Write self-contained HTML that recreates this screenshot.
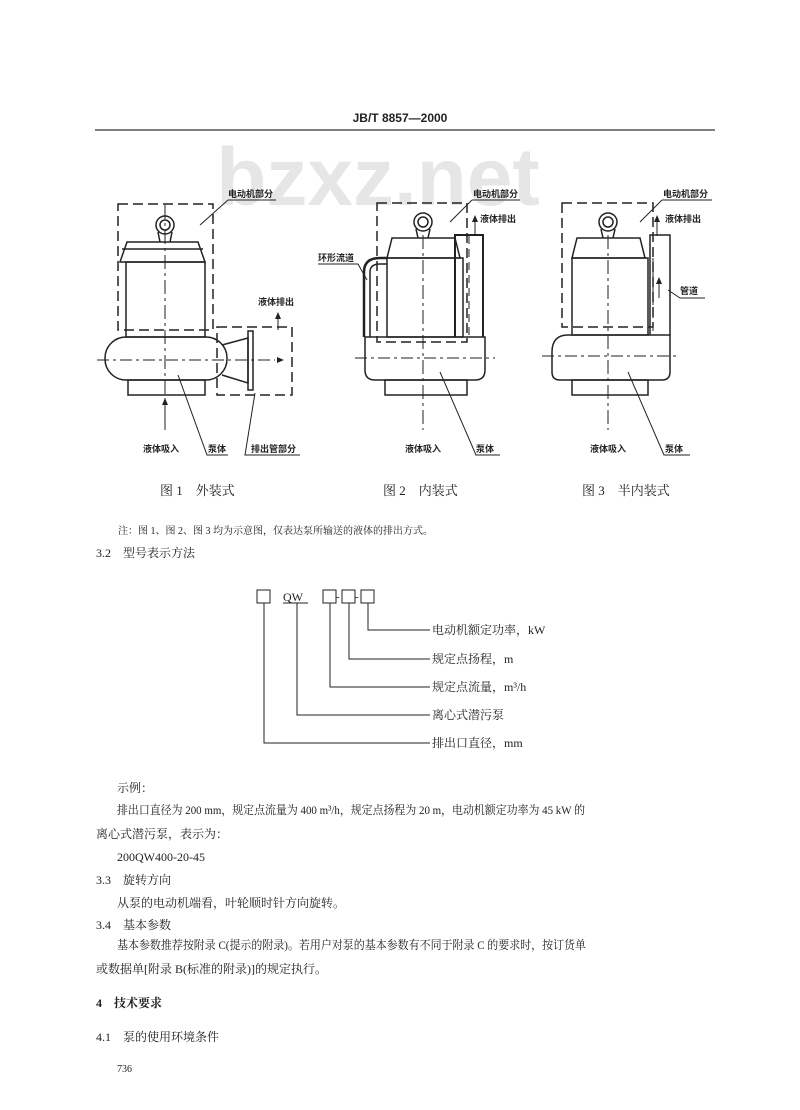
<!DOCTYPE html>
<html><head><meta charset="utf-8"><style>
html,body{margin:0;padding:0;background:#fff;}
svg{display:block;}
text{font-family:"Liberation Serif","Noto Serif CJK SC","Noto Sans CJK SC",serif;fill:#222;}
.b{font-family:"Liberation Sans","Noto Sans CJK SC",sans-serif;font-weight:bold;font-size:9px;}
</style></head><body>
<svg width="800" height="1110" viewBox="0 0 800 1110" xmlns="http://www.w3.org/2000/svg">
<rect width="800" height="1110" fill="#fff"/>
<text x="400" y="122" text-anchor="middle" style="font-family:'Liberation Sans',sans-serif;font-weight:bold;font-size:12px">JB/T 8857—2000</text>
<line x1="95" y1="130" x2="715" y2="130" stroke="#333" stroke-width="1.2"/>
<text x="378" y="205" text-anchor="middle" style="font-family:'Liberation Sans',sans-serif;font-weight:bold;font-size:82px;fill:#e6e6e6">bzxz.net</text>

<g fill="none" stroke="#222" stroke-width="1.5">
<!-- FIG 1 -->
<rect x="118" y="204" width="95" height="126" stroke-dasharray="10,5"/>
<circle cx="165" cy="225" r="9"/><circle cx="165" cy="225" r="5"/>
<path d="M158 232 L160 242 M172 232 L170 242"/>
<path d="M120 262 L127 242 L198 242 L205 262 Z"/>
<line x1="122" y1="249" x2="203" y2="249"/>
<rect x="126" y="262" width="79" height="75"/>
<rect x="105" y="337" width="122" height="43" rx="21"/>
<rect x="128" y="380" width="77" height="15"/>
<rect x="217" y="327" width="75" height="68" stroke-dasharray="10,5"/>
<path d="M222 345 L248 338 L248 383 L222 375"/>
<rect x="248" y="331" width="5" height="59"/>
<line x1="97" y1="360" x2="275" y2="360" stroke-dasharray="12,4,3,4" stroke-width="1"/>
<line x1="165" y1="205" x2="165" y2="420" stroke-dasharray="14,4,3,4" stroke-width="1"/>
<line x1="165" y1="400" x2="165" y2="430" stroke-width="1"/>
<line x1="278" y1="330" x2="278" y2="315" stroke-width="1"/>
<line x1="200" y1="225" x2="228" y2="200" stroke-width="1"/><line x1="228" y1="200" x2="276" y2="200" stroke-width="1"/>
<path d="M178 375 L207 455 L228 455 M255 393 L245 455 L300 455" stroke-width="1"/>

<!-- FIG 2 -->
<rect x="377" y="203" width="90" height="139" stroke-dasharray="10,5"/>
<circle cx="423" cy="222" r="9"/><circle cx="423" cy="222" r="5"/>
<path d="M416 229 L418 238 M430 229 L428 238"/>
<path d="M387 258 L392 238 L455 238 L460 258 Z"/>
<rect x="387" y="258" width="76" height="79"/>
<path d="M364 337 L364 272 Q364 258 380 258 L387 258" stroke-width="2.5"/>
<path d="M370 337 L370 272 Q370 264 380 264 L387 264"/>
<path d="M455 337 L455 235 L483 235 L483 337" stroke-width="2"/>
<line x1="469" y1="236" x2="469" y2="337" stroke-dasharray="8,5" stroke-width="1"/>
<path d="M365 337 L485 337 L485 370 Q485 380 475 380 L375 380 Q365 380 365 370 Z"/>
<rect x="385" y="380" width="82" height="15"/>
<line x1="355" y1="358" x2="495" y2="358" stroke-dasharray="12,4,3,4" stroke-width="1"/>
<line x1="423" y1="235" x2="423" y2="430" stroke-dasharray="14,4,3,4" stroke-width="1"/>
<line x1="475" y1="236" x2="475" y2="218" stroke-width="1"/>
<line x1="450" y1="222" x2="472" y2="200" stroke-width="1"/><line x1="472" y1="200" x2="520" y2="200" stroke-width="1"/>
<path d="M318 264 L358 264 L367 280" stroke-width="1"/>
<path d="M440 372 L476 455 L500 455" stroke-width="1"/>

<!-- FIG 3 -->
<rect x="562" y="203" width="91" height="124" stroke-dasharray="10,5"/>
<circle cx="608" cy="222" r="9"/><circle cx="608" cy="222" r="5"/>
<path d="M601 229 L603 238 M615 229 L613 238"/>
<path d="M572 258 L577 238 L640 238 L645 258 Z"/>
<rect x="572" y="258" width="76" height="77"/>
<path d="M650 335 L650 235 L670 235 L670 335"/>
<line x1="653" y1="258" x2="653" y2="335" stroke-dasharray="8,5" stroke-width="1"/>
<path d="M552 352 Q552 335 568 335 L670 335 L670 372 Q670 380 662 380 L560 380 Q552 380 552 372 Z"/>
<rect x="572" y="380" width="76" height="15"/>
<line x1="542" y1="356" x2="680" y2="356" stroke-dasharray="12,4,3,4" stroke-width="1"/>
<line x1="608" y1="235" x2="608" y2="430" stroke-dasharray="14,4,3,4" stroke-width="1"/>
<line x1="659" y1="298" x2="659" y2="280" stroke-width="1"/>
<line x1="657" y1="236" x2="657" y2="218" stroke-width="1"/>
<line x1="640" y1="222" x2="662" y2="200" stroke-width="1"/><line x1="662" y1="200" x2="712" y2="200" stroke-width="1"/>
<path d="M668 290 L680 298 L705 298" stroke-width="1"/>
<path d="M628 372 L664 455 L690 455" stroke-width="1"/>

<!-- code diagram -->
<rect x="257" y="590" width="13" height="13" stroke-width="1"/>
<rect x="323" y="590" width="13" height="13" stroke-width="1"/>
<rect x="342" y="590" width="13" height="13" stroke-width="1"/>
<rect x="361" y="590" width="13" height="13" stroke-width="1"/>
<line x1="283" y1="603" x2="308" y2="603" stroke-width="1"/>
<path d="M368 603 L368 630 L430 630 M349 603 L349 659 L430 659 M330 603 L330 687 L430 687 M297 603 L297 715 L430 715 M264 603 L264 743 L430 743" stroke-width="1"/>
</g>
<g fill="#222">
<path d="M278 312 l-3 7 h6z"/><path d="M165 398 l-3 7 h6z"/>
<path d="M475 215 l-3 7 h6z"/><path d="M659 277 l-3 7 h6z"/><path d="M657 215 l-3 7 h6z"/>
<path d="M284 360 l-7 -3 v6z"/>
</g>
<text x="336" y="600" style="font-size:11px">-</text><text x="355" y="600" style="font-size:11px">-</text>
<text x="283" y="601" style="font-size:12px">QW</text>

<text class="b" x="228" y="197">电动机部分</text>
<text class="b" x="258" y="305">液体排出</text>
<text class="b" x="143" y="452">液体吸入</text>
<text class="b" x="208" y="452">泵体</text>
<text class="b" x="251" y="452">排出管部分</text>
<text class="b" x="473" y="197">电动机部分</text>
<text class="b" x="480" y="222">液体排出</text>
<text class="b" x="318" y="261">环形流道</text>
<text class="b" x="405" y="452">液体吸入</text>
<text class="b" x="476" y="452">泵体</text>
<text class="b" x="663" y="197">电动机部分</text>
<text class="b" x="665" y="222">液体排出</text>
<text class="b" x="680" y="294">管道</text>
<text class="b" x="590" y="452">液体吸入</text>
<text class="b" x="665" y="452">泵体</text>
<text x="160" y="495" style="font-size:13px">图 1　外装式</text>
<text x="383" y="495" style="font-size:13px">图 2　内装式</text>
<text x="582" y="495" style="font-size:13px">图 3　半内装式</text>

<text x="118" y="534" style="font-size:10px">注：图 1、图 2、图 3 均为示意图，仅表达泵所输送的液体的排出方式。</text>
<text x="96" y="557" style="font-size:12px">3.2　型号表示方法</text>
<text x="432" y="634" style="font-size:12px">电动机额定功率，kW</text>
<text x="432" y="663" style="font-size:12px">规定点扬程，m</text>
<text x="432" y="691" style="font-size:12px">规定点流量，m³/h</text>
<text x="432" y="719" style="font-size:12px">离心式潜污泵</text>
<text x="432" y="747" style="font-size:12px">排出口直径，mm</text>

<g style="font-size:12px">
<text x="117" y="792">示例：</text>
<text x="117" y="814" textLength="468" lengthAdjust="spacingAndGlyphs">排出口直径为 200 mm，规定点流量为 400 m³/h，规定点扬程为 20 m，电动机额定功率为 45 kW 的</text>
<text x="96" y="838">离心式潜污泵，表示为：</text>
<text x="117" y="861">200QW400-20-45</text>
<text x="96" y="884">3.3　旋转方向</text>
<text x="117" y="907">从泵的电动机端看，叶轮顺时针方向旋转。</text>
<text x="96" y="929">3.4　基本参数</text>
<text x="117" y="949" textLength="469" lengthAdjust="spacingAndGlyphs">基本参数推荐按附录 C(提示的附录)。若用户对泵的基本参数有不同于附录 C 的要求时，按订货单</text>
<text x="96" y="973">或数据单[附录 B(标准的附录)]的规定执行。</text>
<text x="96" y="1007" style="font-weight:bold">4　技术要求</text>
<text x="96" y="1041">4.1　泵的使用环境条件</text>
<text x="117" y="1072" style="font-size:10px">736</text>
</g>
</svg>
</body></html>
